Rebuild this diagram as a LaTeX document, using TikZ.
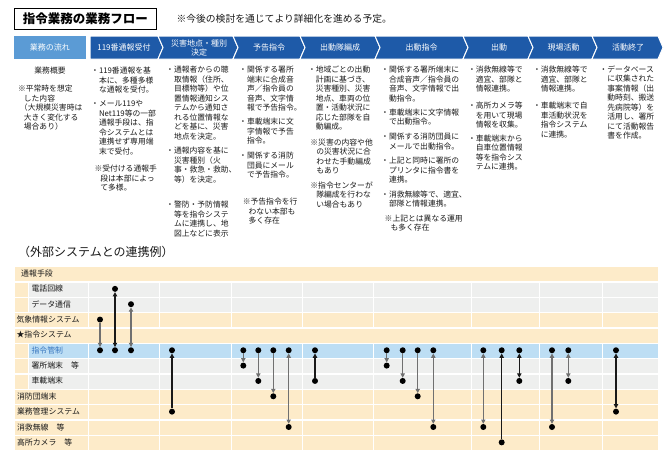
\documentclass[tikz,border=0pt]{standalone}
\usepackage{fontspec}
\setmainfont{Noto Sans CJK JP}
\usetikzlibrary{arrows.meta}
\definecolor{hdrblue}{HTML}{1E5AA8}
\definecolor{flowblue}{HTML}{5B9BD5}
\definecolor{peach}{HTML}{FDEBC9}
\definecolor{lgray}{HTML}{EEEFEE}
\definecolor{rowblue}{HTML}{BDDEF4}
\definecolor{txtc}{HTML}{1A1A1A}
\definecolor{midgray}{HTML}{707070}
\definecolor{lblblue}{HTML}{3A78C0}
\newcommand\bnl{\\\hspace*{1em}}
\newcommand\nnl{\\\hspace*{0.75em}}
\newcommand\tRow[2]{\fill[#2] (15,{266.5+15.35*#1+0.65}) rectangle (658.3,{266.5+15.35*#1+15.35-0.65});}
\newcommand\tSub[1]{\fill[peach] (15,{266.5+15.35*#1+0.65}) rectangle (28.3,{266.5+15.35*#1+15.35-0.65});
  \draw[white,line width=1.3pt] (28.3,{266.5+15.35*#1}) -- (28.3,{266.5+15.35*#1+15.35});}
\newcommand\tDiv[1]{\foreach \xx in {88.3,159.3,231.7,302.7,373.3,471.7,539.3,602.7}{\draw[white,line width=1.3pt] (\xx,{266.5+15.35*#1}) -- (\xx,{266.5+15.35*#1+15.35});}}
\newcommand\chv[2]{\path[chev] (#1,36) -- ({#2-5},36) -- (#2,47.5) -- ({#2-5},59) -- (#1,59) -- ({#1+5},47.5) -- cycle;}
\newcommand\lnk[6]{\node[pdot] (#1a) at (#2,#3) {};\node[pdot] (#1b) at (#2,#4) {};\draw[#5,#6] (#1a) -- (#1b);}
\tikzset{
  bt/.style={inner sep=0pt, align=left, anchor=north west, font=\fontsize{7.8pt}{9.5pt}\selectfont, text=txtc},
  hdr/.style={text=white, font=\fontsize{8pt}{9pt}\selectfont, align=center, inner sep=0pt},
  chev/.style={fill=hdrblue, draw=white, line width=1pt},
  lbl/.style={anchor=west, inner sep=0pt, font=\fontsize{7.9pt}{9pt}\selectfont, text=txtc},
  pdot/.style={circle, fill=black, inner sep=0pt, minimum size=6pt},
  blk/.style={line width=1.1pt, draw=black!90},
  gry/.style={line width=1.1pt, draw=midgray},
}
\begin{document}
\begin{tikzpicture}[x=1pt,y=-1pt,>={Triangle[length=4.3pt,width=4.3pt]}]
\useasboundingbox (0,0) rectangle (670,450);

% ---------- title ----------
\node[draw=black,line width=0.8pt,minimum width=142.7pt,minimum height=21pt,inner sep=0pt,
  font=\fontsize{12.5pt}{14pt}\selectfont\bfseries] (title) at (85.35,18.8) {指令業務の業務フロー};
\node[anchor=west,inner sep=0pt,font=\fontsize{9.8pt}{11pt}\selectfont,text=txtc] (note) at (176.3,18.5)
  {※今後の検討を通じてより詳細化を進める予定。};

% ---------- header flow ----------
\fill[flowblue] (14,36) rectangle (86,59);
\node[hdr] (h0) at (50,47.5) {業務の流れ};
\path[chev] (90,36) -- (158,36) -- (163,47.5) -- (158,59) -- (90,59) -- cycle;
\node[hdr] (h1) at (124,47.5) {119番通報受付};
\chv{158}{238}
\node[hdr] (h2) at (199,47.5) {災害地点・種別\\決定};
\chv{233}{305}
\node[hdr] (h3) at (269,47.5) {予告指令};
\chv{300}{380}
\node[hdr] (h4) at (340,47.5) {出動隊編成};
\chv{375}{468}
\node[hdr] (h5) at (421.5,47.5) {出動指令};
\chv{463}{533}
\node[hdr] (h6) at (499,47.5) {出動};
\chv{528}{597}
\node[hdr] (h7) at (563.5,47.5) {現場活動};
\chv{592}{663}
\node[hdr] (h8) at (628,47.5) {活動終了};

% ---------- column texts ----------
\node[bt,anchor=center] (c1t) at (50,70.7) {業務概要};
\node[bt] (c1n) at (17.8,85.2) {※平常時を想定\nnl した内容\\\hspace*{0.25em}（大規模災害時は\nnl 大きく変化する\nnl 場合あり）};

\node[bt] (c2a) at (91,67) {・119番通報を基\bnl 本に、多種多様\bnl な通報を受付。};
\node[bt] (c2b) at (91,100.5) {・メール119や\bnl Net119等の一部\bnl 通報手段は、指\bnl 令システムとは\bnl 連携せず専用端\bnl 末で受付。};
\node[bt] (c2n) at (94.3,165.2) {※受付ける通報手\nnl 段は本部によっ\nnl て多様。};

\node[bt] (c3a) at (166,66.2) {・通報者からの聴\bnl 取情報（住所、\bnl 目標物等）や位\bnl 置情報通知シス\bnl テムから通知さ\bnl れる位置情報な\bnl どを基に、災害\bnl 地点を決定。};
\node[bt] (c3b) at (166,147.2) {・通報内容を基に\bnl 災害種別（火\bnl 事・救急・救助、\bnl 等）を決定。};
\node[bt] (c3c) at (166,201.2) {・警防・予防情報\bnl 等を指令システ\bnl ムに連携し、地\bnl 図上などに表示};

\node[bt] (c4a) at (239,66.2) {・関係する署所\bnl 端末に合成音\bnl 声／指令員の\bnl 音声、文字情\bnl 報で予告指令。};
\node[bt] (c4b) at (239,117.9) {・車載端末に文\bnl 字情報で予告\bnl 指令。};
\node[bt] (c4c) at (239,151.9) {・関係する消防\bnl 団員にメール\bnl で予告指令。};
\node[bt] (c4n) at (242.6,197.9) {※予告指令を行\nnl わない本部も\nnl 多く存在};

\node[bt] (c5a) at (307.8,66.2) {・地域ごとの出動\bnl 計画に基づき、\bnl 災害種別、災害\bnl 地点、車両の位\bnl 置・活動状況に\bnl 応じた部隊を自\bnl 動編成。};
\node[bt] (c5n) at (310.2,138.5) {※災害の内容や他\nnl の災害状況に合\nnl わせた手動編成\nnl もあり};
\node[bt] (c5m) at (310.2,181.2) {※指令センターが\nnl 隊編成を行わな\nnl い場合もあり};

\node[bt] (c6a) at (381,66.2) {・関係する署所端末に\bnl 合成音声／指令員の\bnl 音声、文字情報で出\bnl 動指令。};
\node[bt] (c6b) at (381,108.5) {・車載端末に文字情報\bnl で出動指令。};
\node[bt] (c6c) at (381,132.9) {・関係する消防団員に\bnl メールで出動指令。};
\node[bt] (c6d) at (381,157.2) {・上記と同時に署所の\bnl プリンタに指令書を\bnl 連携。};
\node[bt] (c6e) at (381,190.5) {・消救無線等で、適宜、\bnl 部隊と情報連携。};
\node[bt] (c6n) at (384.5,214.5) {※上記とは異なる運用\nnl も多く存在};

\node[bt] (c7a) at (467.8,66.2) {・消救無線等で\bnl 適宜、部隊と\bnl 情報連携。};
\node[bt] (c7b) at (467.8,101.9) {・高所カメラ等\bnl を用いて現場\bnl 情報を収集。};
\node[bt] (c7c) at (467.8,134.5) {・車載端末から\bnl 自車位置情報\bnl 等を指令シス\bnl テムに連携。};

\node[bt] (c8a) at (532.8,66.2) {・消救無線等で\bnl 適宜、部隊と\bnl 情報連携。};
\node[bt] (c8b) at (532.8,101.9) {・車載端末で自\bnl 車活動状況を\bnl 指令システム\bnl に連携。};

\node[bt] (c9a) at (599.4,65.5) {・データベース\bnl に収集された\bnl 事案情報（出\bnl 動時刻、搬送\bnl 先病院等）を\bnl 活用し、署所\bnl にて活動報告\bnl 書を作成。};

% ---------- lower section ----------
\node[anchor=west,inner sep=0pt,font=\fontsize{12pt}{14pt}\selectfont,text=txtc] (sec) at (18,251.7) {（外部システムとの連携例）};

\tRow{0}{peach}
\tRow{1}{lgray}\tSub{1}\tDiv{1}
\tRow{2}{lgray}\tSub{2}\tDiv{2}
\tRow{3}{peach}\tDiv{3}
\tRow{4}{peach}
\tRow{5}{rowblue}\tSub{5}\tDiv{5}
\tRow{6}{lgray}\tSub{6}\tDiv{6}
\tRow{7}{lgray}\tSub{7}\tDiv{7}
\tRow{8}{peach}\tDiv{8}
\tRow{9}{peach}\tDiv{9}
\tRow{10}{peach}\tDiv{10}
\tRow{11}{peach}\tDiv{11}

\node[lbl] (l0) at (21,273.5) {通報手段};
\node[lbl] (l1) at (31.3,288.85) {電話回線};
\node[lbl] (l2) at (31.3,304.2) {データ通信};
\node[lbl] (l3) at (16.3,319.55) {気象情報システム};
\node[lbl] (l4) at (16.3,334.9) {★指令システム};
\node[lbl,text=lblblue] (l5) at (31.3,350.25) {指令管制};
\node[lbl] (l6) at (31.3,365.6) {署所端末　等};
\node[lbl] (l7) at (31.3,380.95) {車載端末};
\node[lbl] (l8) at (16.8,396.3) {消防団端末};
\node[lbl] (l9) at (16.8,411.65) {業務管理システム};
\node[lbl] (l10) at (16.8,427.0) {消救無線　等};
\node[lbl] (l11) at (16.8,442.35) {高所カメラ　等};

% ---------- connections ----------
\lnk{k1}{100}{319.55}{350.25}{gry}{->}
\lnk{k2}{115}{288.85}{350.25}{blk}{<->}
\lnk{k3}{131}{304.2}{350.25}{gry}{<->}
\lnk{k4}{172}{350.25}{411.65}{blk}{<-}
\lnk{k5}{243.3}{350.25}{365.6}{gry}{->}
\lnk{k6}{258.3}{350.25}{380.95}{gry}{->}
\lnk{k7}{273.3}{350.25}{396.3}{gry}{->}
\lnk{k8}{288.7}{350.25}{427.0}{gry}{<->}
\lnk{k9}{315}{350.25}{380.95}{blk}{<-}
\lnk{k10}{386.7}{350.25}{365.6}{gry}{->}
\lnk{k11}{402.7}{350.25}{380.95}{gry}{->}
\lnk{k12}{417.7}{350.25}{396.3}{gry}{->}
\lnk{k13}{433.3}{350.25}{427.0}{gry}{<->}
\lnk{k14}{483.3}{350.25}{427.0}{gry}{<->}
\lnk{k15}{501.7}{350.25}{442.35}{blk}{<-}
\lnk{k16}{519.3}{350.25}{380.95}{blk}{<->}
\lnk{k17}{552}{350.25}{427.0}{gry}{<->}
\lnk{k18}{568.3}{350.25}{380.95}{gry}{<->}
\lnk{k19}{616}{350.25}{411.65}{blk}{<->}
\end{tikzpicture}
\end{document}
